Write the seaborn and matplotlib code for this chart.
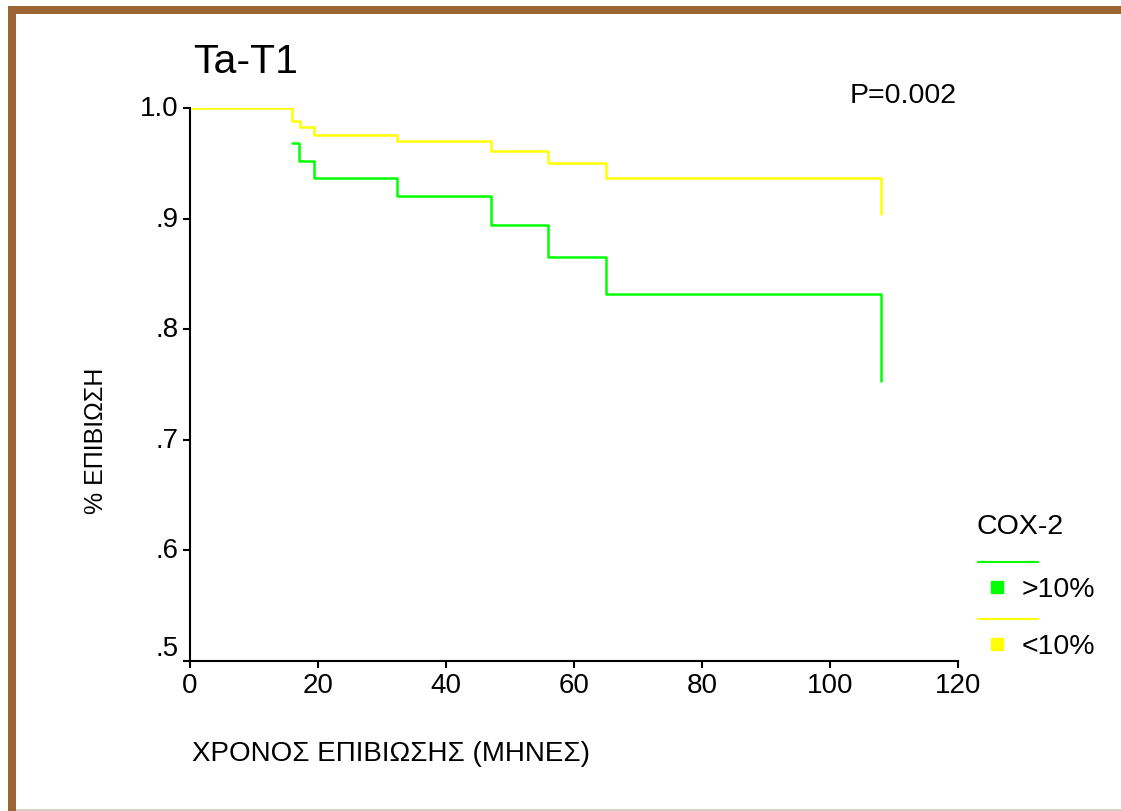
import numpy as np
import pandas as pd
import matplotlib
matplotlib.use("Agg")
import matplotlib.pyplot as plt
import matplotlib.transforms as mtransforms
import seaborn as sns
from matplotlib.patches import Rectangle
from matplotlib.lines import Line2D

# Kaplan-Meier step curves (time in months, cumulative survival)
months_high = [16, 17, 19.4, 32.3, 47, 56, 65, 108, 108]
surv_high = [0.968, 0.952, 0.937, 0.920, 0.894, 0.865, 0.832, 0.832, 0.753]

months_low = [0, 16, 17.2, 19.4, 32.3, 47, 56, 65, 108, 108]
surv_low = [1.0, 0.9885, 0.983, 0.976, 0.970, 0.961, 0.950, 0.937, 0.937, 0.904]

group_labels = [">10%", "<10%"]
group_colors = ["#00ff00", "#ffff00"]

x_ticks = [0, 20, 40, 60, 80, 100, 120]
y_ticks = [0.5, 0.6, 0.7, 0.8, 0.9, 1.0]
y_tick_labels = [".5", ".6", ".7", ".8", ".9", "1.0"]

df = pd.concat([
    pd.DataFrame({"months": months_high, "survival": surv_high, "group": group_labels[0]}),
    pd.DataFrame({"months": months_low, "survival": surv_low, "group": group_labels[1]}),
], ignore_index=True)

sns.set_theme(style="white")
plt.rcParams["font.family"] = ["Liberation Sans", "DejaVu Sans"]
plt.rcParams["text.color"] = "black"

W, H = 1121, 812
fig = plt.figure(figsize=(W / 100, H / 100), dpi=100)
fig.patch.set_facecolor("white")

# frame around the figure
brown = "#9a6532"
fig.add_artist(Rectangle((8 / W, 0), 8 / W, 1 - 7 / H, transform=fig.transFigure,
                         facecolor=brown, edgecolor="none"))
fig.add_artist(Rectangle((8 / W, 1 - 15 / H), 1 - 8 / W, 8 / H, transform=fig.transFigure,
                         facecolor=brown, edgecolor="none"))
fig.add_artist(Rectangle((16 / W, 0), 1 - 16 / W, 2 / H, transform=fig.transFigure,
                         facecolor="#d6cfc4", edgecolor="none"))

ax = fig.add_axes([190 / W, 1 - 662 / H, (958 - 190) / W, (662 - 109) / H])
ax.set_facecolor("white")

for label, color in zip(group_labels, group_colors):
    sub = df[df["group"] == label]
    sns.lineplot(data=sub, x="months", y="survival", drawstyle="steps-post",
                 color=color, linewidth=1.8, ax=ax, estimator=None, sort=False,
                 legend=False)

ax.set_xlim(0, 120)
ax.set_ylim(0.5, 1.0)
ax.set_xticks(x_ticks)
ax.set_xticklabels([str(t) for t in x_ticks], fontsize=20)
ax.set_yticks(y_ticks)
ax.set_yticklabels(y_tick_labels, fontsize=20)
ax.set_xlabel("")
ax.set_ylabel("")
for side in ["top", "right"]:
    ax.spines[side].set_visible(False)
for side in ["left", "bottom"]:
    ax.spines[side].set_color("black")
    ax.spines[side].set_linewidth(1.5)
ax.tick_params(axis="both", which="both", direction="out", length=5, width=1.5,
               color="black", labelcolor="black", left=True, bottom=True, pad=3)

# lift the y tick labels slightly; the bottom one clears the x axis
for i, lab in enumerate(ax.get_yticklabels()):
    dy = 16 if i == 0 else 3
    lab.set_transform(lab.get_transform() +
                      mtransforms.ScaledTranslation(0, dy / 100, fig.dpi_scale_trans))

fig.text(193 / W, 1 - 62 / H, "Ta-T1", fontsize=29.5, ha="left", va="center")
fig.text(957 / W, 1 - 96 / H, "P=0.002", fontsize=20.5, ha="right", va="center")
fig.text(96 / W, 1 - 441 / H, "% ΕΠΙΒΙΩΣΗ", fontsize=18, rotation=90,
         ha="center", va="center")
fig.text(192 / W, 1 - 754 / H, "ΧΡΟΝΟΣ ΕΠΙΒΙΩΣΗΣ (ΜΗΝΕΣ)", fontsize=20,
         ha="left", va="center")

# legend block
fig.text(977 / W, 1 - 527 / H, "COX-2", fontsize=20.5, ha="left", va="center")
line_rows = [563, 620]
text_rows = [590, 647]
for label, color, ly, ty in zip(group_labels, group_colors, line_rows, text_rows):
    fig.add_artist(Line2D([978 / W, 1038 / W], [1 - ly / H, 1 - ly / H],
                          transform=fig.transFigure, color=color, linewidth=1.5))
    fig.add_artist(Line2D([997 / W], [1 - (ty - 2) / H], transform=fig.transFigure,
                          marker="s", markersize=9, color=color, linestyle="none"))
    fig.text(1022 / W, 1 - ty / H, label, fontsize=20.5, ha="left", va="center")

fig.savefig("out.png", dpi=100)
